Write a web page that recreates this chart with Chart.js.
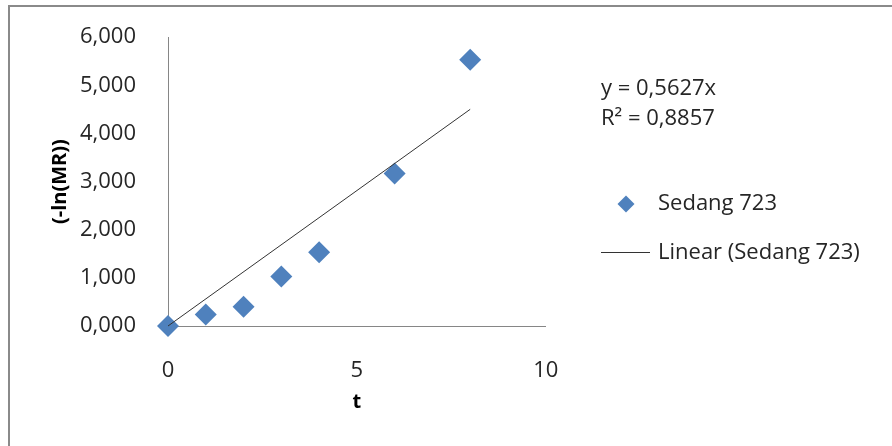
<!DOCTYPE html>
<html>
<head>
<meta charset="utf-8">
<script src="https://cdn.jsdelivr.net/npm/chart.js@4/dist/chart.umd.min.js"></script>
<style>
  html, body { margin: 0; padding: 0; background: #ffffff; }
  #wrap { width: 892px; height: 446px; position: relative; }
</style>
</head>
<body>
<div id="wrap"><canvas id="c" width="892" height="446"></canvas></div>
<script>
// Drying time t and -ln(MR) for sample "Sedang 723"
const times = [0, 1, 2, 3, 4, 6, 8];
const negLnMR = [0.000, 0.240, 0.400, 1.030, 1.530, 3.170, 5.530];
const seriesName = 'Sedang 723';

// Linear trendline through the origin, as reported
const trendSlope = 0.5627;
const trendR2 = 0.8857;

// Axis ticks
const xTickValues = [0, 5, 10];
const yTickValues = [0, 1, 2, 3, 4, 5, 6];

const FONT = '"Open Sans", "Noto Sans", sans-serif';
const BLUE = '#4F81BD';
const TREND = '#333333';
const AXIS = '#868686';
const TEXT = '#262626';

const fmtComma = (v, d) => v.toFixed(d).replace('.', ',');

const points = times.map((t, i) => ({ x: t, y: negLnMR[i] }));
const tMin = Math.min(...times), tMax = Math.max(...times);
const trendPoints = [
  { x: tMin, y: trendSlope * tMin },
  { x: tMax, y: trendSlope * tMax }
];

// Frame, trendline equation and legend
const decorations = {
  id: 'decorations',
  afterDraw(chart) {
    const ctx = chart.ctx;
    ctx.save();

    // outer frame (top and left edges visible)
    ctx.strokeStyle = '#8a8a8a';
    ctx.lineWidth = 2;
    ctx.beginPath();
    ctx.moveTo(9, 446);
    ctx.lineTo(9, 6);
    ctx.lineTo(892, 6);
    ctx.stroke();

    ctx.font = '22px ' + FONT;
    ctx.fillStyle = TEXT;
    ctx.textAlign = 'left';
    ctx.textBaseline = 'middle';

    // trendline equation
    ctx.fillText('y = ' + fmtComma(trendSlope, 4) + 'x', 601, 89);
    ctx.fillText('R\u00B2 = ' + fmtComma(trendR2, 4), 601, 119);

    // legend
    const ds = chart.data.datasets;
    const r = 8.5, cx = 626, cy = 204;
    ctx.fillStyle = ds[0].backgroundColor;
    ctx.beginPath();
    ctx.moveTo(cx - r, cy);
    ctx.lineTo(cx, cy - r);
    ctx.lineTo(cx + r, cy);
    ctx.lineTo(cx, cy + r);
    ctx.closePath();
    ctx.fill();
    ctx.fillStyle = TEXT;
    ctx.fillText(ds[0].label, 658, 204);

    ctx.strokeStyle = ds[1].borderColor;
    ctx.lineWidth = 1;
    ctx.beginPath();
    ctx.moveTo(601, 252.5);
    ctx.lineTo(650, 252.5);
    ctx.stroke();
    ctx.fillText(ds[1].label, 658, 253);

    ctx.restore();
  }
};

new Chart(document.getElementById('c'), {
  type: 'scatter',
  data: {
    datasets: [
      {
        label: seriesName,
        data: points,
        pointStyle: 'rectRot',
        pointRadius: 11,
        pointHoverRadius: 11,
        backgroundColor: BLUE,
        borderColor: BLUE,
        borderWidth: 0,
        showLine: false,
        clip: false,
        order: 1
      },
      {
        label: 'Linear (' + seriesName + ')',
        data: trendPoints,
        showLine: true,
        borderColor: TREND,
        borderWidth: 1,
        pointRadius: 0,
        pointHoverRadius: 0,
        fill: false,
        clip: false,
        order: 0
      }
    ]
  },
  options: {
    responsive: false,
    animation: false,
    devicePixelRatio: 1,
    events: [],
    layout: { padding: { left: 0, top: 36, right: 346.25, bottom: 0 } },
    plugins: {
      legend: { display: false },
      tooltip: { enabled: false }
    },
    scales: {
      x: {
        type: 'linear',
        min: 0,
        max: 10,
        afterBuildTicks: s => { s.ticks = xTickValues.map(v => ({ value: v })); },
        afterFit: s => { s.height = 120; },
        grid: { display: false },
        border: { display: true, color: AXIS, width: 1 },
        ticks: {
          padding: 24,
          color: TEXT,
          font: { family: FONT, size: 22 },
          callback: v => String(v)
        },
        title: {
          display: true,
          text: 't',
          color: '#000',
          font: { family: FONT, size: 20, weight: 'bold' },
          padding: { top: 0, bottom: 32 }
        }
      },
      y: {
        type: 'linear',
        min: 0,
        max: 6,
        afterBuildTicks: s => { s.ticks = yTickValues.map(v => ({ value: v })); },
        afterFit: s => { s.width = 168; },
        grid: { display: false },
        border: { display: true, color: AXIS, width: 1 },
        ticks: {
          padding: 24,
          color: TEXT,
          font: { family: FONT, size: 22 },
          callback: v => fmtComma(v, 3)
        },
        title: {
          display: true,
          text: '(-ln(MR))',
          color: '#000',
          font: { family: FONT, size: 20, weight: 'bold' },
          padding: { top: 48, bottom: 0 }
        }
      }
    }
  },
  plugins: [decorations]
});
</script>
</body>
</html>
